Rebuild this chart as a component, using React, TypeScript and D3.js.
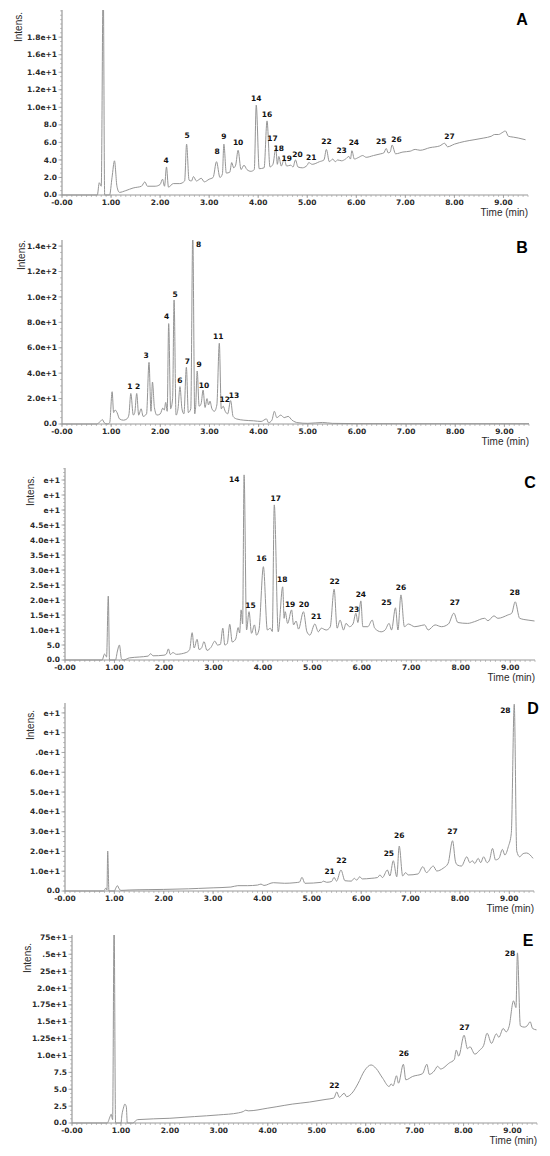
import * as d3 from 'd3';

type Pt = [number, number];
type Lbl = [string, number, number];

// shared time axis
const X_END = 9.5;
const X_TICKS = [0, 1, 2, 3, 4, 5, 6, 7, 8, 9];
const X_TICK_TEXT = ['-0.00', '1.00', '2.00', '3.00', '4.00', '5.00', '6.00', '7.00', '8.00', '9.00'];

// ---- A ----
const traceA: Pt[] = [
  [0, 0], [0.72, 0], [0.76, 1.4], [0.8, 1.0], [0.84, 25], [0.87, 0], [0.97, 0], [1.02, 2.0], [1.07, 3.9],
  [1.12, 1.0], [1.17, 0.3], [1.3, 0.5], [1.45, 0.8], [1.62, 1.0], [1.69, 1.5], [1.74, 1.0], [1.9, 1.0],
  [2.0, 1.2], [2.05, 1.8], [2.09, 1.0], [2.13, 3.2], [2.17, 0.9], [2.27, 1.3], [2.4, 1.3], [2.5, 1.6],
  [2.54, 5.8], [2.59, 1.7], [2.64, 1.6], [2.68, 2.1], [2.74, 1.6], [2.84, 1.9], [2.9, 1.5], [3.0, 1.8],
  [3.08, 2.0], [3.15, 3.8], [3.22, 2.0], [3.27, 2.4], [3.30, 5.8], [3.35, 2.5], [3.42, 2.6], [3.46, 3.7],
  [3.5, 3.1], [3.54, 3.4], [3.59, 5.1], [3.65, 2.9], [3.71, 3.4], [3.77, 2.9], [3.85, 2.7], [3.92, 2.9],
  [3.96, 10.25], [4.02, 3.0], [4.12, 3.1], [4.18, 8.45], [4.24, 3.2], [4.3, 3.5], [4.36, 5.35], [4.39, 3.5],
  [4.42, 4.4], [4.47, 3.3], [4.53, 4.1], [4.58, 3.3], [4.66, 3.4], [4.71, 3.2], [4.76, 4.0], [4.81, 3.2],
  [4.9, 3.1], [5.0, 3.4], [5.03, 3.7], [5.1, 3.5], [5.25, 3.8], [5.34, 4.0], [5.39, 5.2], [5.45, 3.8],
  [5.52, 4.1], [5.57, 3.8], [5.62, 4.0], [5.7, 3.9], [5.78, 4.1], [5.85, 4.4], [5.88, 4.1], [5.91, 5.05],
  [5.96, 4.1], [6.05, 4.3], [6.13, 4.5], [6.2, 4.3], [6.35, 4.5], [6.5, 4.7], [6.56, 4.8], [6.61, 5.3],
  [6.65, 4.8], [6.69, 4.9], [6.73, 5.7], [6.8, 4.7], [6.95, 4.9], [7.1, 5.0], [7.2, 5.2], [7.3, 5.1],
  [7.5, 5.4], [7.7, 5.6], [7.8, 5.9], [7.86, 5.5], [8.0, 5.8], [8.2, 6.1], [8.4, 6.3], [8.6, 6.5],
  [8.75, 6.7], [8.82, 6.9], [8.9, 6.9], [8.97, 7.1], [9.04, 7.3], [9.1, 6.7], [9.2, 6.6], [9.3, 6.5], [9.45, 6.3],
];
const labelsA: Lbl[] = [
  ['4', 2.12, 3.9], ['5', 2.55, 6.75], ['8', 3.16, 5.0], ['9', 3.30, 6.65], ['10', 3.59, 5.95],
  ['14', 3.96, 10.97], ['16', 4.18, 9.19], ['17', 4.29, 6.5], ['18', 4.42, 5.3], ['19', 4.58, 4.2],
  ['20', 4.8, 4.6], ['21', 5.08, 4.29], ['22', 5.39, 6.07], ['23', 5.70, 5.13], ['24', 5.95, 5.96],
  ['25', 6.51, 6.07], ['26', 6.82, 6.34], ['27', 7.9, 6.72],
];
const yTicksA = [0, 2, 4, 6, 8, 10, 12, 14, 16, 18];
const yTextA = ['0.0', '2.0', '4.0', '6.0', '8.0', '1.0e+1', '1.2e+1', '1.4e+1', '1.6e+1', '1.8e+1'];

// ---- B ----
const traceB: Pt[] = [
  [0, 0], [0.7, 0], [0.78, 2], [0.82, 3.5], [0.86, 1], [0.92, 0], [0.97, 1], [1.02, 25.4], [1.05, 9],
  [1.08, 11], [1.12, 9], [1.17, 4], [1.25, 3], [1.32, 4], [1.36, 7], [1.40, 24], [1.45, 7], [1.48, 9],
  [1.52, 24], [1.56, 7], [1.61, 12], [1.65, 6], [1.72, 8], [1.77, 48.5], [1.81, 10], [1.84, 33], [1.88, 13],
  [1.93, 7], [2.0, 8], [2.05, 12.5], [2.08, 11], [2.11, 17], [2.14, 10], [2.17, 79], [2.21, 12], [2.25, 20],
  [2.28, 97.6], [2.32, 7], [2.36, 12], [2.40, 29.4], [2.44, 12], [2.48, 8], [2.53, 44.6], [2.57, 9],
  [2.62, 12], [2.66, 150], [2.70, 8], [2.72, 14], [2.75, 41.7], [2.79, 14], [2.83, 16], [2.87, 26.7],
  [2.91, 13], [2.95, 20], [2.98, 15], [3.01, 18], [3.05, 12], [3.1, 10], [3.15, 15], [3.2, 63.5], [3.24, 12],
  [3.28, 14], [3.32, 10], [3.37, 8], [3.43, 18.4], [3.48, 6], [3.55, 4], [3.7, 3], [3.9, 2.5], [4.05, 2],
  [4.16, 4], [4.2, 1], [4.27, 3], [4.32, 10], [4.37, 5], [4.45, 7], [4.52, 5], [4.6, 6], [4.68, 3],
  [4.8, 1], [5.0, 0.5], [5.3, 1.2], [5.5, 0.5], [6, 0.3], [7, 0.2], [9.5, 0.2],
];
const labelsB: Lbl[] = [
  ['1', 1.38, 29.4], ['2', 1.54, 29.4], ['3', 1.71, 54.3], ['4', 2.13, 84.4], ['5', 2.30, 102],
  ['6', 2.40, 34.1], ['7', 2.55, 49.6], ['8', 2.78, 141.4], ['9', 2.79, 47.2], ['10', 2.89, 30.7],
  ['11', 3.18, 68.7], ['12', 3.31, 19.7], ['13', 3.50, 22.8],
];
const yTicksB = [0, 20, 40, 60, 80, 100, 120, 140];
const yTextB = ['0.0', '2.0e+1', '4.0e+1', '6.0e+1', '8.0e+1', '1.0e+2', '1.2e+2', '1.4e+2'];

// ---- C ----
const traceC: Pt[] = [
  [0, 0], [0.75, 0], [0.8, 2], [0.84, 1], [0.875, 21.3], [0.9, 0], [1.02, 0], [1.06, 3], [1.10, 5],
  [1.14, 0.5], [1.18, 0], [1.3, 0.7], [1.5, 1.0], [1.68, 1.3], [1.73, 2.1], [1.78, 1.4], [2.0, 1.6],
  [2.05, 2], [2.09, 3.7], [2.13, 1.8], [2.18, 2.5], [2.25, 1.9], [2.45, 2.5], [2.52, 3.5], [2.57, 9.1],
  [2.61, 4], [2.67, 6.9], [2.71, 3.5], [2.76, 4], [2.81, 6.1], [2.87, 3.2], [2.95, 4.2], [3.03, 6.3],
  [3.08, 5], [3.14, 5.2], [3.19, 10.6], [3.23, 5], [3.28, 5.5], [3.33, 11.9], [3.38, 6], [3.45, 7],
  [3.50, 10.8], [3.53, 9], [3.56, 16.7], [3.59, 12], [3.62, 61.7], [3.67, 10], [3.72, 16.1], [3.77, 8.9],
  [3.83, 11.7], [3.87, 8.3], [3.92, 10], [4.01, 31.1], [4.09, 10], [4.15, 10.6], [4.19, 9.5], [4.23, 51.7],
  [4.31, 9.4], [4.40, 24.4], [4.43, 13.9], [4.45, 16.1], [4.5, 12.2], [4.58, 16.7], [4.62, 11.7], [4.67, 13],
  [4.72, 10.3], [4.82, 16.1], [4.89, 9.4], [4.95, 8.3], [5.05, 12], [5.12, 9.4], [5.18, 10.6], [5.28, 10],
  [5.36, 11], [5.44, 23.6], [5.50, 10.6], [5.56, 13.3], [5.63, 10], [5.68, 12.2], [5.75, 11.1], [5.82, 12],
  [5.88, 15.6], [5.92, 12.5], [5.98, 19.7], [6.02, 11.1], [6.12, 11.1], [6.21, 13.3], [6.26, 10.6],
  [6.39, 9.4], [6.47, 10], [6.55, 12.2], [6.6, 10], [6.68, 17.4], [6.73, 10], [6.79, 21.7], [6.86, 11.1],
  [6.94, 12], [7.07, 11.1], [7.2, 11.5], [7.27, 11.7], [7.34, 10], [7.48, 11.7], [7.61, 11.1], [7.75, 12],
  [7.86, 15.6], [7.94, 12.5], [8.14, 12.2], [8.28, 12.8], [8.48, 13.9], [8.55, 13.1], [8.67, 14.7],
  [8.75, 13.9], [8.95, 15], [9.03, 15.6], [9.10, 19.4], [9.19, 13.9], [9.36, 13.3], [9.49, 13],
];
const labelsC: Lbl[] = [
  ['14', 3.42, 60.2], ['15', 3.75, 18.3], ['16', 3.97, 33.9], ['17', 4.26, 54], ['18', 4.39, 26.9],
  ['19', 4.55, 18.7], ['20', 4.83, 18.7], ['21', 5.08, 14.4], ['22', 5.45, 26.1], ['23', 5.84, 16.9],
  ['24', 5.98, 21.9], ['25', 6.50, 19.1], ['26', 6.79, 24.1], ['27', 7.88, 19.1], ['28', 9.09, 22.4],
];
const yTicksC = [0, 5, 10, 15, 20, 25, 30, 35, 40, 45, 50, 55, 60];
const yTextC = ['0.0', '5.0', '1.0e+1', '1.5e+1', '2.0e+1', '2.5e+1', '3.0e+1', '3.5e+1', '4.0e+1', '4.5e+1', 'e+1', 'e+1', 'e+1'];

// ---- D ----
const traceD: Pt[] = [
  [0, 0], [0.78, 0], [0.83, 1.5], [0.85, 0.5], [0.865, 20.2], [0.89, 0], [1.0, 0], [1.03, 1.5], [1.06, 2.7],
  [1.1, 1], [1.13, 0.3], [1.3, 0.5], [1.7, 0.7], [2.0, 0.8], [2.5, 1.1], [2.7, 1.3], [3.0, 1.6], [3.36, 2.0],
  [3.5, 2.7], [3.7, 2.7], [3.9, 3.0], [3.97, 3.5], [4.03, 2.8], [4.22, 4.2], [4.45, 3.9], [4.66, 4.2],
  [4.75, 4.5], [4.80, 6.9], [4.86, 3.9], [5.2, 4.4], [5.23, 5.0], [5.3, 4.4], [5.4, 4.8], [5.45, 6.9],
  [5.5, 5], [5.59, 10.6], [5.67, 5.2], [5.8, 5], [5.86, 6.4], [5.91, 5.5], [5.97, 7.2], [6.02, 6.1],
  [6.2, 6.4], [6.33, 6.8], [6.38, 8.1], [6.43, 6.8], [6.53, 10.6], [6.58, 7.6], [6.65, 15.3], [6.72, 7.2],
  [6.77, 22.7], [6.84, 7.6], [6.9, 9.3], [6.95, 8.1], [7.15, 8.6], [7.25, 12.3], [7.32, 9.3], [7.46, 12.6],
  [7.53, 10.1], [7.66, 11.5], [7.76, 14], [7.85, 25.4], [7.91, 14.8], [7.95, 13.1], [8.03, 12.6],
  [8.14, 17.3], [8.2, 14.3], [8.25, 15.3], [8.3, 13.9], [8.37, 16.5], [8.42, 14.3], [8.48, 17.3],
  [8.55, 14.3], [8.6, 15.7], [8.66, 21.5], [8.72, 15.7], [8.79, 16.5], [8.86, 21], [8.91, 18.2],
  [8.98, 22.4], [9.04, 29.1], [9.10, 94.4], [9.15, 20.2], [9.21, 17.3], [9.28, 18.9], [9.35, 19.2], [9.48, 16.5],
];
const labelsD: Lbl[] = [
  ['21', 5.36, 10.1], ['22', 5.6, 15.3], ['25', 6.56, 19.0], ['26', 6.77, 27.9], ['27', 7.85, 30.0], ['28', 8.92, 91.1],
];
const yTicksD = [0, 10, 20, 30, 40, 50, 60, 70, 80, 90];
const yTextD = ['0.0', '1.0e+1', '2.0e+1', '3.0e+1', '4.0e+1', '5.0e+1', '6.0e+1', '.0e+1', 'e+1', 'e+1'];

// ---- E ----
const traceE: Pt[] = [
  [0, 0], [0.72, 0], [0.78, 1], [0.8, 1.3], [0.83, 0.5], [0.86, 30], [0.89, 0], [1.0, 0], [1.02, 1.2],
  [1.05, 2.2], [1.08, 2.8], [1.11, 2.4], [1.13, 0], [1.24, 0], [1.34, 0.5], [2.0, 0.7], [2.5, 0.95],
  [3.0, 1.2], [3.4, 1.5], [3.5, 1.7], [3.55, 1.9], [3.6, 1.8], [4.0, 2.2], [4.17, 2.4], [4.5, 2.8],
  [4.85, 3.1], [5.19, 3.5], [5.35, 3.7], [5.41, 4.6], [5.46, 3.8], [5.56, 4.4], [5.61, 3.9], [5.74, 4.6],
  [5.84, 5.8], [5.98, 7.8], [6.11, 8.6], [6.21, 8.1], [6.35, 6.6], [6.48, 5.4], [6.52, 5.8], [6.56, 5.5],
  [6.63, 7.0], [6.67, 5.9], [6.77, 8.7], [6.82, 6.4], [6.96, 6.9], [7.16, 7.3], [7.25, 8.7], [7.3, 7.2],
  [7.4, 7.7], [7.47, 8.4], [7.53, 8.0], [7.71, 8.9], [7.81, 9.4], [7.85, 10.8], [7.9, 9.9], [8.01, 13.0],
  [8.08, 11.0], [8.13, 11.3], [8.23, 10.2], [8.33, 10.8], [8.41, 11.5], [8.48, 13.3], [8.57, 11.8],
  [8.67, 13.2], [8.72, 12.7], [8.81, 14.0], [8.87, 13.5], [8.93, 14.3], [9.02, 18.1], [9.07, 17.1],
  [9.10, 25.2], [9.16, 14.4], [9.24, 14.2], [9.3, 14.4], [9.36, 15.0], [9.41, 14.0], [9.49, 13.8],
];
const labelsE: Lbl[] = [
  ['22', 5.36, 5.6], ['26', 6.78, 10.3], ['27', 8.02, 14.2], ['28', 8.95, 25.2],
];
const yTicksE = [0, 2.5, 5, 7.5, 10, 12.5, 15, 17.5, 20, 22.5, 25, 27.5];
const yTextE = ['0.0', '2.5', '5.0', '7.5', '1.0e+1', '1.25e+1', '1.5e+1', '1.75e+1', '2.0e+1', '25e+1', '.5e+1', '75e+1'];

interface Layout {
  letter: string;
  x0: number;
  x1: number;
  yZero: number;
  yTop: number;
  yMax: number;
  minor: number;
  intensX: number;
  intensY: number;
  letterX: number;
  letterY: number;
}

const AXIS = '#9a9a9a';
const TRACE = '#959595';
const TEXT = '#2a2a2a';
const TICK_FONT = 'DejaVu Sans, sans-serif';
const LABEL_FONT = 'Liberation Sans, Arial, sans-serif';

function Panel({ layout, trace, labels, yTicks, yText }: {
  layout: Layout; trace: Pt[]; labels: Lbl[]; yTicks: number[]; yText: string[];
}) {
  const x = d3.scaleLinear().domain([0, X_END]).range([layout.x0, layout.x1]);
  const y = d3.scaleLinear().domain([0, layout.yMax]).range([layout.yZero, layout.yTop]);
  const line = d3.line<Pt>().x((d) => x(d[0])).y((d) => y(d[1])).curve(d3.curveMonotoneX);
  const xMinor = d3.range(0, X_END + 0.001, 0.1);
  const yMinor = d3.range(0, layout.yMax, layout.minor);
  const clipId = `clip-${layout.letter}`;
  const ax = x(0);

  return (
    <g>
      <defs>
        <clipPath id={clipId}>
          <rect x={ax} y={layout.yTop} width={layout.x1 - ax + 4} height={layout.yZero - layout.yTop + 1} />
        </clipPath>
      </defs>

      {/* y axis */}
      <line x1={ax} x2={ax} y1={layout.yZero} y2={layout.yTop} stroke={AXIS} strokeWidth={1.2} />
      {yMinor.map((v, i) => (
        <line key={`ym${i}`} x1={ax - 2} x2={ax} y1={y(v)} y2={y(v)} stroke={AXIS} strokeWidth={0.6} />
      ))}
      {yTicks.map((v, i) => (
        <g key={`yt${i}`}>
          <line x1={ax - 3.5} x2={ax} y1={y(v)} y2={y(v)} stroke={AXIS} strokeWidth={0.8} />
          <text x={ax - 5} y={y(v)} dy={i === 0 ? '0.2em' : '0.35em'} textAnchor="end" fontFamily={TICK_FONT}
            fontWeight="bold" fontSize={7.5} fill={TEXT}>{yText[i]}</text>
        </g>
      ))}

      {/* x axis */}
      <line x1={ax} x2={layout.x1} y1={layout.yZero} y2={layout.yZero} stroke={AXIS} strokeWidth={1.2} />
      {xMinor.map((t, i) => (
        <line key={`xm${i}`} x1={x(t)} x2={x(t)} y1={layout.yZero} y2={layout.yZero + 2}
          stroke={AXIS} strokeWidth={0.6} />
      ))}
      {X_TICKS.map((t, i) => (
        <g key={`xt${i}`}>
          <line x1={x(t)} x2={x(t)} y1={layout.yZero} y2={layout.yZero + 3} stroke={AXIS} strokeWidth={0.8} />
          <text x={x(t)} y={layout.yZero + 9.5} textAnchor="middle" fontFamily={TICK_FONT}
            fontWeight="bold" fontSize={7.5} fill={TEXT}>{X_TICK_TEXT[i]}</text>
        </g>
      ))}
      <text x={layout.x1} y={layout.yZero + 21} textAnchor="end" fontFamily={LABEL_FONT}
        fontSize={10} fill={TEXT}>Time (min)</text>
      <text transform={`translate(${layout.intensX},${layout.intensY}) rotate(-90)`} dy="0.35em"
        textAnchor="middle" fontFamily={LABEL_FONT} fontSize={10} fill={TEXT}>Intens.</text>

      {/* chromatogram trace */}
      <path d={line(trace) ?? ''} fill="none" stroke={TRACE} strokeWidth={1}
        strokeLinejoin="round" clipPath={`url(#${clipId})`} />

      {/* peak numbers */}
      {labels.map(([name, t, v]) => (
        <text key={`pk${name}`} x={x(t)} y={y(v)} dy="0.35em" textAnchor="middle" fontFamily={TICK_FONT}
          fontWeight="bold" fontSize={7.5} fill="#111">{name}</text>
      ))}

      <text x={layout.letterX} y={layout.letterY} dy="0.36em" textAnchor="middle" fontFamily={LABEL_FONT}
        fontWeight="bold" fontSize={16} fill="#000">{layout.letter}</text>
    </g>
  );
}

const layouts: Layout[] = [
  { letter: 'A', x0: 62, x1: 528, yZero: 195, yTop: 10, yMax: 21.1, minor: 0.5, intensX: 18, intensY: 27, letterX: 522, letterY: 19 },
  { letter: 'B', x0: 62, x1: 529, yZero: 424, yTop: 240, yMax: 144.8, minor: 5, intensX: 21, intensY: 255, letterX: 522, letterY: 247 },
  { letter: 'C', x0: 65, x1: 535, yZero: 660, yTop: 468, yMax: 64, minor: 1.25, intensX: 30, intensY: 491, letterX: 530, letterY: 482 },
  { letter: 'D', x0: 65, x1: 534, yZero: 891, yTop: 703, yMax: 95, minor: 2.5, intensX: 30, intensY: 725, letterX: 533, letterY: 708 },
  { letter: 'E', x0: 72, x1: 537, yZero: 1123, yTop: 935, yMax: 27.85, minor: 0.625, intensX: 27, intensY: 958, letterX: 528, letterY: 940 },
];

export default function App() {
  return (
    <svg width={550} height={1156} style={{ position: 'absolute', left: 0, top: 0, background: '#fff' }}>
      <rect width={550} height={1156} fill="#fff" />
      <Panel layout={layouts[0]} trace={traceA} labels={labelsA} yTicks={yTicksA} yText={yTextA} />
      <Panel layout={layouts[1]} trace={traceB} labels={labelsB} yTicks={yTicksB} yText={yTextB} />
      <Panel layout={layouts[2]} trace={traceC} labels={labelsC} yTicks={yTicksC} yText={yTextC} />
      <Panel layout={layouts[3]} trace={traceD} labels={labelsD} yTicks={yTicksD} yText={yTextD} />
      <Panel layout={layouts[4]} trace={traceE} labels={labelsE} yTicks={yTicksE} yText={yTextE} />
    </svg>
  );
}
